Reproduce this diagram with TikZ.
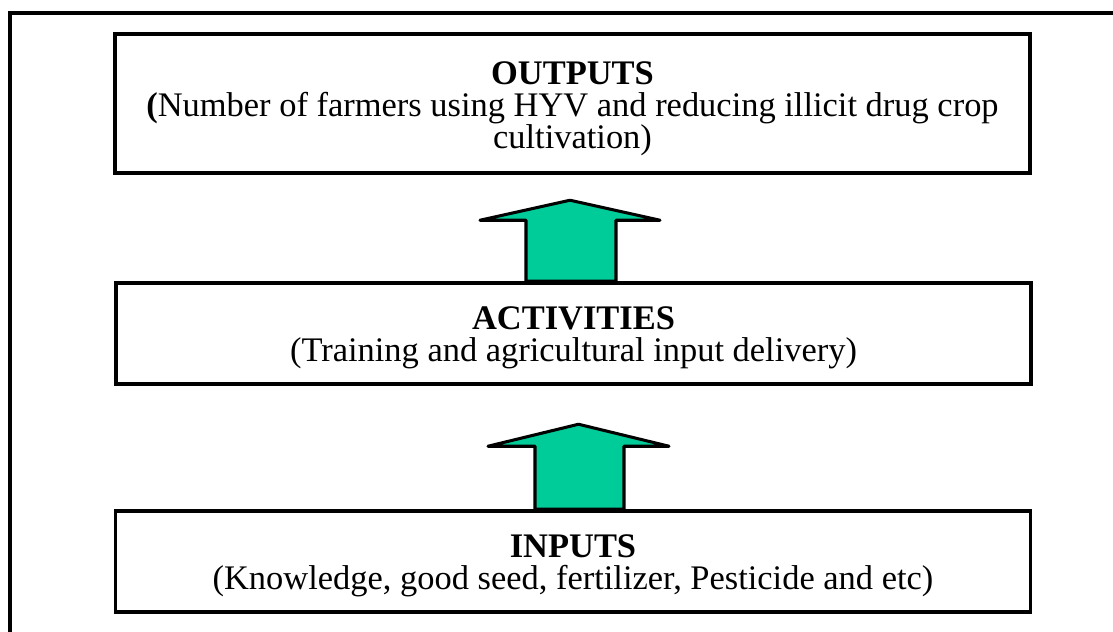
\documentclass[tikz,border=0pt]{standalone}
\usepackage{fontspec}
\setmainfont{Liberation Serif}
\usetikzlibrary{positioning, calc}
\definecolor{arrowgreen}{RGB}{0, 204, 153}

\newcommand{\titlefont}{\bfseries}

\begin{document}
\begin{tikzpicture}[x=0.03cm, y=0.03cm,
  box/.style={draw, line width=3pt, minimum width=27.45cm, inner sep=0pt},
  boxtext/.style={align=center, inner sep=0pt, font=\fontsize{29.4}{27.3}\selectfont},
  uparrow/.style={draw, fill=arrowgreen, line width=2.6pt, line join=round}]
  \clip (0,0) rectangle (1113,631);

  % Outer frame (only top and left edges in view)
  \draw[line width=3pt] (10,-10) |- (1130,618);

  % Boxes
  \node[box, minimum height=4.17cm] (outputs) at (572.5,527.5) {};
  \node[box, minimum height=3.03cm] (activities) at (573.5,297.5) {};
  \node[box, minimum height=3.03cm] (inputs) at (573,69.5) {};

  % Box texts
  \node[boxtext] (outputs-txt) at (572.5,522.5) {{\titlefont OUTPUTS}\\
    \textbf{(}Number of farmers using HYV and reducing illicit drug crop\\
    cultivation)};
  \node[boxtext] (activities-txt) at (573.5,293) {{\titlefont ACTIVITIES}\\
    (Training and agricultural input delivery)};
  \node[boxtext] (inputs-txt) at (573,65.5) {{\titlefont INPUTS}\\
    (Knowledge, good seed, fertilizer, Pesticide and etc)};

  % Block arrows
  \draw[uparrow] ($(activities.north)+(-47.5,0)$) -- ++(0,61) -- ++(-46,0)
    -- ++(90,20) -- ++(90,-20) -- ++(-44,0) -- ++(0,-61) -- cycle;
  \draw[uparrow] ($(inputs.north)+(-38,0)$) -- ++(0,63) -- ++(-47,0)
    -- ++(90.5,22) -- ++(90.5,-22) -- ++(-45,0) -- ++(0,-63) -- cycle;
\end{tikzpicture}
\end{document}
